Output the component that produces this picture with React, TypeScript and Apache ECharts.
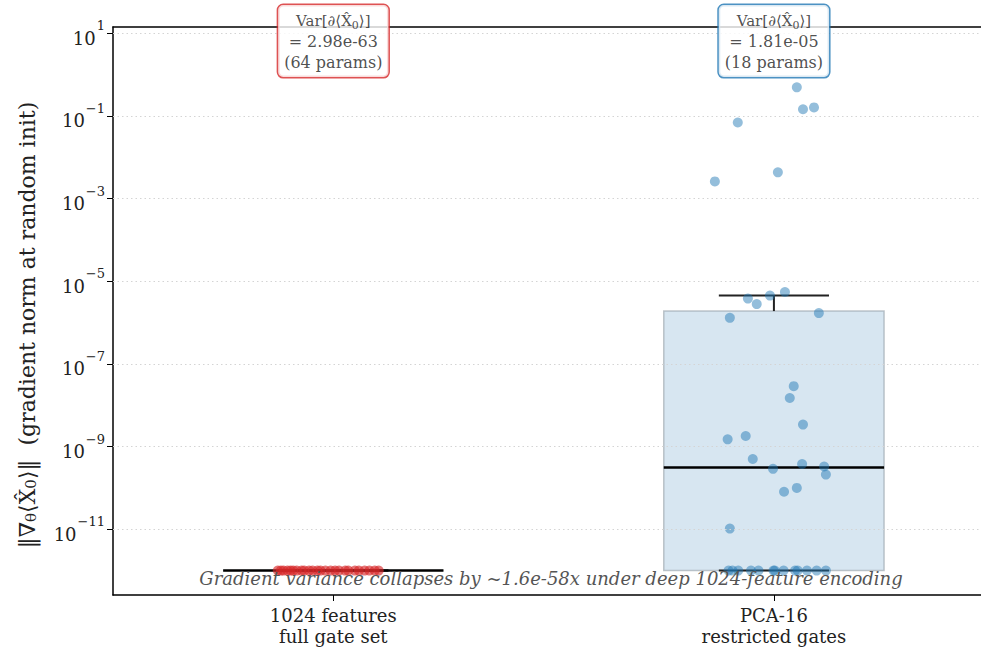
import React, { useEffect, useRef } from 'react';
import * as echarts from 'echarts';

// ---------- data ----------
const categories = ['1024 features\nfull gate set', 'PCA-16\nrestricted gates'];
const categoryPositions = [0, 1];
const yTickExponents = [-11, -9, -7, -5, -3, -1, 1];

// box stats: [lower whisker, Q1, median, Q3, upper whisker]
const boxFull = [1e-12, 1e-12, 1e-12, 1e-12, 1e-12];
const boxPca = [1e-12, 1e-12, 3.1e-10, 1.9e-6, 4.5e-6];

// jittered points, 1024 features
const fullJitter = [
  -0.126, -0.119, -0.113, -0.104, -0.097, -0.091, -0.083, -0.072, -0.066, -0.055,
  -0.047, -0.036, -0.029, -0.018, -0.006, 0.004, 0.013, 0.027, 0.034, 0.049,
  0.058, 0.071, 0.082, 0.094, 0.103,
];
const fullValues = [
  1e-12, 1e-12, 1e-12, 1e-12, 1e-12, 1e-12, 1e-12, 1e-12, 1e-12, 1e-12,
  1e-12, 1e-12, 1e-12, 1e-12, 1e-12, 1e-12, 1e-12, 1e-12, 1e-12, 1e-12,
  1e-12, 1e-12, 1e-12, 1e-12, 1e-12,
];

// jittered points, PCA-16
const pcaJitter = [
  0.052, 0.066, 0.091, -0.082, -0.134, 0.009, -0.059, -0.039, -0.009, 0.025,
  -0.1, 0.102, 0.045, 0.036, 0.066, -0.064, -0.105, -0.048, -0.002, 0.064,
  0.114, 0.118, 0.052, 0.023, -0.1,
  -0.103, -0.094, -0.081, -0.052, -0.035, -0.001, 0.002, 0.022, 0.048, 0.054,
  0.075, 0.097, 0.118,
];
const pcaValues = [
  0.49, 0.145, 0.16, 0.069, 0.0026, 0.0043, 3.8e-6, 2.8e-6, 4.5e-6, 5.5e-6,
  1.3e-6, 1.7e-6, 2.9e-8, 1.5e-8, 3.4e-9, 1.8e-9, 1.5e-9, 5.0e-10, 2.9e-10, 3.8e-10,
  3.3e-10, 2.1e-10, 1.0e-10, 8.1e-11, 1.04e-11,
  1e-12, 1e-12, 1e-12, 1e-12, 1e-12, 1e-12, 1e-12, 1e-12, 1e-12, 1e-12,
  1e-12, 1e-12, 1e-12,
];

const varianceTexts = ['2.98e-63', '1.81e-05'];
const paramCounts = [64, 18];
const footnote = 'Gradient variance collapses by ~1.6e-58x under deep 1024-feature encoding';

// ---------- styling ----------
const SERIF = "'DejaVu Serif', serif";
const colours = ['#d62728', '#1f77b4'];
const pointColours = ['rgba(214,39,40,0.8)', 'rgba(31,119,180,0.6)'];
const boxFills = ['rgba(214,39,40,0.18)', 'rgba(31,119,180,0.18)'];

const Y_MIN = -12.59;
const Y_MAX = 1.15;
const X_MIN = -0.5;
const X_MAX = 1.47;
const ANNOT_Y = 0.81;

const lg = (v: number) => Math.log10(v);
const supMinus = (n: number) => (n < 0 ? '\u2212' + Math.abs(n) : String(n));

export default function App() {
  const ref = useRef<HTMLDivElement>(null);

  useEffect(() => {
    if (!ref.current) return;
    const chart = echarts.init(ref.current, null, { renderer: 'svg' });

    const boxData = [boxFull, boxPca].map((b, i) => [categoryPositions[i], ...b.map(lg)]);

    const option: any = {
      animation: false,
      backgroundColor: '#ffffff',
      grid: { left: 113, right: 0, top: 27, bottom: 59, containLabel: false },
      xAxis: [
        {
          type: 'value',
          min: X_MIN,
          max: X_MAX,
          axisLine: { show: true, onZero: false, lineStyle: { color: '#000', width: 1.5 } },
          axisTick: { show: true, length: 6, customValues: categoryPositions, lineStyle: { color: '#000', width: 1 } },
          axisLabel: {
            show: true,
            customValues: categoryPositions,
            formatter: (v: number) => categories[Math.round(v)],
            fontFamily: SERIF,
            fontSize: 18,
            lineHeight: 21,
            color: '#222',
            margin: 10,
          },
          splitLine: { show: false },
        },
        {
          type: 'value',
          position: 'top',
          min: X_MIN,
          max: X_MAX,
          axisLine: { show: true, onZero: false, lineStyle: { color: '#000', width: 1.5 } },
          axisTick: { show: false },
          axisLabel: { show: false },
          splitLine: { show: false },
        },
      ],
      yAxis: {
        type: 'value',
        min: Y_MIN,
        max: Y_MAX,
        axisLine: { show: true, onZero: false, lineStyle: { color: '#000', width: 1.5 } },
        axisTick: { show: true, length: 6, customValues: yTickExponents, lineStyle: { color: '#000', width: 1 } },
        axisLabel: {
          show: true,
          customValues: yTickExponents,
          margin: 8,
          formatter: (v: number) => `{b|10}{s|${supMinus(Math.round(v))}}`,
          rich: {
            b: { fontFamily: SERIF, fontSize: 18, color: '#222', lineHeight: 28, verticalAlign: 'bottom' },
            s: { fontFamily: SERIF, fontSize: 13, color: '#222', lineHeight: 14, verticalAlign: 'top', padding: [0, 0, 0, 1] },
          },
        },
        splitLine: { show: false },
      },
      series: [
        {
          type: 'scatter',
          name: 'grid',
          data: [],
          silent: true,
          z: 1,
          markLine: {
            silent: true,
            symbol: ['none', 'none'],
            label: { show: false },
            lineStyle: { type: [1.5, 3], color: '#d4d4d4', width: 1 },
            data: yTickExponents.map((e) => ({ yAxis: e })),
          },
        },
        {
          type: 'custom',
          name: 'box',
          z: 2,
          silent: true,
          clip: false,
          encode: { x: 0, y: [1, 2, 3, 4, 5] },
          data: boxData,
          renderItem: (params: any, api: any) => {
            const x = api.value(0) as number;
            const lo = api.value(1) as number;
            const q1 = api.value(2) as number;
            const med = api.value(3) as number;
            const q3 = api.value(4) as number;
            const hi = api.value(5) as number;
            const [xl, yq3] = api.coord([x - 0.25, q3]);
            const [xr, yq1] = api.coord([x + 0.25, q1]);
            const [xc, ymed] = api.coord([x, med]);
            const [, ylo] = api.coord([x, lo]);
            const [, yhi] = api.coord([x, hi]);
            const [cl] = api.coord([x - 0.125, lo]);
            const [cr] = api.coord([x + 0.125, lo]);
            const ln = { stroke: '#222', lineWidth: 2 };
            return {
              type: 'group',
              children: [
                {
                  type: 'rect',
                  shape: { x: xl, y: yq3, width: xr - xl, height: Math.max(0, yq1 - yq3) },
                  style: { fill: boxFills[params.dataIndex], stroke: 'rgba(150,160,168,0.6)', lineWidth: 1.5 },
                },
                { type: 'line', shape: { x1: xc, y1: yq3, x2: xc, y2: yhi }, style: ln },
                { type: 'line', shape: { x1: xc, y1: yq1, x2: xc, y2: ylo }, style: ln },
                { type: 'line', shape: { x1: cl, y1: yhi, x2: cr, y2: yhi }, style: ln },
                { type: 'line', shape: { x1: cl, y1: ylo, x2: cr, y2: ylo }, style: ln },
                { type: 'line', shape: { x1: xl, y1: ymed, x2: xr, y2: ymed }, style: { stroke: '#000', lineWidth: 2.5 } },
              ],
            };
          },
        },
        {
          type: 'scatter',
          name: 'full',
          z: 3,
          symbolSize: 10,
          itemStyle: { color: pointColours[0] },
          data: fullValues.map((v, i) => [categoryPositions[0] + fullJitter[i], lg(v)]),
        },
        {
          type: 'scatter',
          name: 'pca',
          z: 3,
          symbolSize: 10,
          itemStyle: { color: pointColours[1] },
          data: pcaValues.map((v, i) => [categoryPositions[1] + pcaJitter[i], lg(v)]),
        },
        {
          type: 'scatter',
          name: 'annotations',
          z: 5,
          symbolSize: 0,
          silent: true,
          clip: false,
          data: categoryPositions.map((p, i) => ({
            value: [p, ANNOT_Y],
            label: {
              show: true,
              position: 'inside',
              formatter: `{m|Var[\u2202\u27e8X\u0302}{ms|0}{m|\u27e9]}\n{t|= ${varianceTexts[i]}}\n{t|(${paramCounts[i]} params)}`,
              backgroundColor: '#ffffff',
              borderColor: colours[i],
              borderWidth: 1.5,
              borderRadius: 5,
              padding: [5, 6, 4, 6],
              align: 'center',
              rich: {
                m: { fontFamily: SERIF, fontSize: 15, color: '#222', lineHeight: 21 },
                ms: { fontFamily: SERIF, fontSize: 11, color: '#222', lineHeight: 21, verticalAlign: 'bottom' },
                t: { fontFamily: SERIF, fontSize: 16, color: '#222', lineHeight: 21 },
              },
            },
          })),
        },
      ],
      graphic: [
        {
          type: 'text',
          x: 27,
          y: 325,
          rotation: Math.PI / 2,
          style: {
            text: '\u2016\u2207{sub|\u03b8}\u27e8X\u0302{sub|0}\u27e9\u2016  (gradient norm at random init)',
            fontFamily: SERIF,
            fontSize: 22,
            fill: '#222',
            textAlign: 'center',
            textVerticalAlign: 'middle',
            rich: {
              sub: { fontFamily: SERIF, fontSize: 15, fill: '#222', verticalAlign: 'bottom' },
            },
          },
        },
        {
          type: 'text',
          x: 551,
          y: 578,
          style: {
            text: footnote,
            fontFamily: SERIF,
            fontStyle: 'italic',
            fontSize: 18,
            fill: '#555',
            textAlign: 'center',
            textVerticalAlign: 'middle',
          },
          z: 10,
        },
      ],
    };

    chart.setOption(option);
    return () => chart.dispose();
  }, []);

  return <div ref={ref} style={{ position: 'absolute', left: 0, top: 0, width: 981, height: 654 }} />;
}
